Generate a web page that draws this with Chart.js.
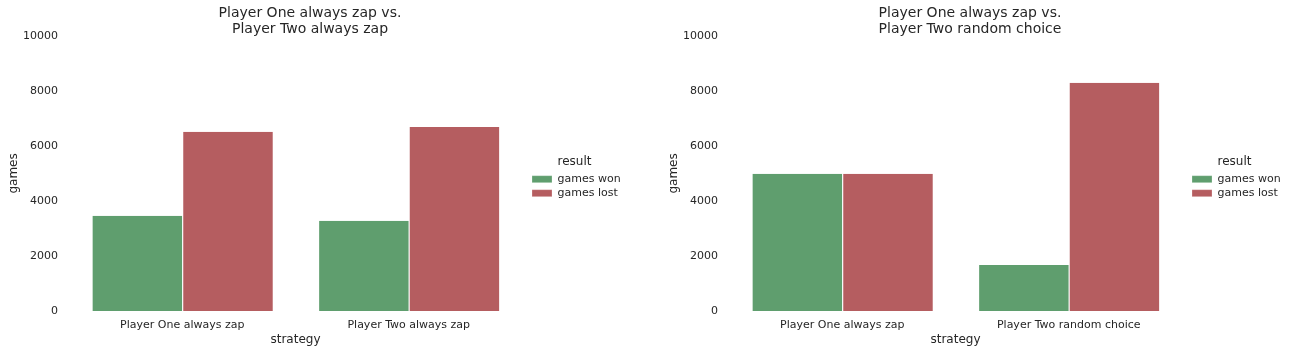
<!DOCTYPE html>
<html>
<head>
<meta charset="utf-8">
<script src="https://cdn.jsdelivr.net/npm/chart.js@4.4.1/dist/chart.umd.min.js"></script>
<style>
  body { margin: 0; background: #fff; }
  .panel { position: absolute; top: 0; width: 633px; height: 354px; }
</style>
</head>
<body>
<div class="panel" style="left:0px"><canvas id="chartLeft" width="633" height="354"></canvas></div>
<div class="panel" style="left:660px"><canvas id="chartRight" width="633" height="354"></canvas></div>
<script>
var leftTitle = ['Player One always zap vs.', 'Player Two always zap'];
var leftLabels = ['Player One always zap', 'Player Two always zap'];
var leftWon = [3460, 3280];
var leftLost = [6510, 6690];

var rightTitle = ['Player One always zap vs.', 'Player Two random choice'];
var rightLabels = ['Player One always zap', 'Player Two random choice'];
var rightWon = [4990, 1670];
var rightLost = [4990, 8290];

var yTicks = [0, 2000, 4000, 6000, 8000, 10000];
var seriesNames = ['games won', 'games lost'];
var seriesColors = ['#5f9e6e', '#b55d60'];
var textColor = '#262626';

Chart.defaults.font.family = "'DejaVu Sans', sans-serif";
Chart.defaults.color = textColor;

function createBarChart(canvasId, title, labels, won, lost) {
  var ctx = document.getElementById(canvasId).getContext('2d');
  var datasets = [won, lost].map(function (values, i) {
    return {
      label: seriesNames[i],
      data: values,
      backgroundColor: seriesColors[i],
      borderColor: '#ffffff',
      borderWidth: {left: 1, top: 0, right: 0, bottom: 0},
      categoryPercentage: 0.8,
      barPercentage: 1.0
    };
  });
  return new Chart(ctx, {
    type: 'bar',
    data: {
      labels: labels,
      datasets: datasets
    },
    options: {
      responsive: false,
      animation: false,
      events: [],
      layout: { padding: {left: 0, right: 13, top: 0, bottom: 0} },
      plugins: {
        title: {
          display: true,
          text: title,
          color: textColor,
          font: {size: 14, weight: 'normal', lineHeight: 1.1},
          padding: {top: 6, bottom: -1}
        },
        legend: {
          position: 'right',
          align: 'center',
          maxWidth: 91,
          title: {display: true, text: 'result', color: textColor, font: {size: 12}, padding: {top: 4, bottom: 0}},
          labels: {boxWidth: 20, boxHeight: 7, padding: 3, color: textColor, font: {size: 11}}
        },
        tooltip: {enabled: false}
      },
      scales: {
        x: {
          grid: {display: false, drawTicks: false},
          border: {display: false},
          ticks: {padding: 7.5, color: textColor, font: {size: 11}},
          title: {display: true, text: 'strategy', color: textColor, font: {size: 12}, padding: {top: -6.6, bottom: 7}}
        },
        y: {
          min: 0,
          max: 10000,
          afterBuildTicks: function (scale) {
            scale.ticks = yTicks.map(function (v) { return {value: v}; });
          },
          afterFit: function (scale) { scale.width = 69; },
          grid: {display: false, drawTicks: false},
          border: {display: false},
          ticks: {
            padding: 11,
            color: textColor,
            font: {size: 11},
            callback: function (value) { return String(value); }
          },
          title: {display: true, text: 'games', color: textColor, font: {size: 12}, padding: {top: 7, bottom: 0}}
        },
        // empty strip between the plot and the legend
        gap: {
          type: 'linear',
          position: 'right',
          grid: {display: false, drawTicks: false},
          border: {display: false},
          ticks: {display: false},
          afterFit: function (scale) { scale.width = 7; }
        }
      }
    }
  });
}

createBarChart('chartLeft', leftTitle, leftLabels, leftWon, leftLost);
createBarChart('chartRight', rightTitle, rightLabels, rightWon, rightLost);
</script>
</body>
</html>
